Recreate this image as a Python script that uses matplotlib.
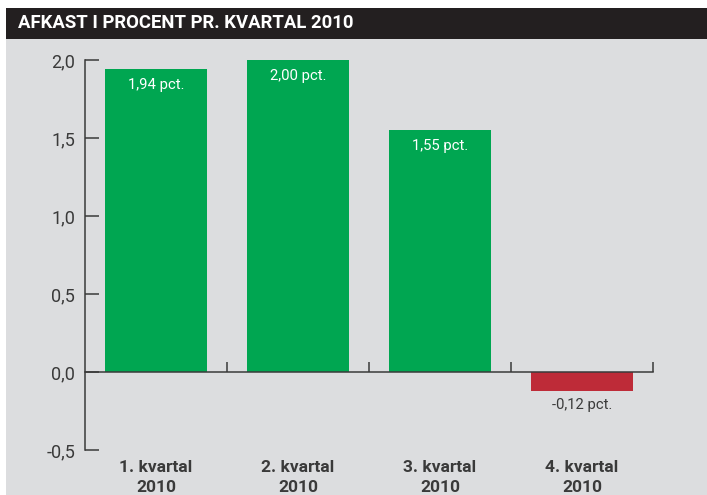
import matplotlib
matplotlib.use("Agg")
import matplotlib.pyplot as plt
from matplotlib.patches import Rectangle
from matplotlib.transforms import blended_transform_factory

plt.rcParams['font.family'] = ['Roboto', 'DejaVu Sans']

# data
quarters = ["1. kvartal\n2010", "2. kvartal\n2010", "3. kvartal\n2010", "4. kvartal\n2010"]
returns = [1.94, 2.00, 1.55, -0.12]
value_labels = ["1,94 pct.", "2,00 pct.", "1,55 pct.", "-0,12 pct."]
yticks = [-0.5, 0.0, 0.5, 1.0, 1.5, 2.0]
ytick_labels = ["-0,5", "0,0", "0,5", "1,0", "1,5", "2,0"]

green = "#00a651"
red = "#be2b38"
bg = "#dcdddf"
ink = "#3a3a3a"

W, H = 707, 495
fig = plt.figure(figsize=(W / 100, H / 100), dpi=100, facecolor="white")

# gray panel and black title bar (behind the axes)
fig.patches.append(Rectangle((6 / W, 0), 1, 1 - 39 / H, transform=fig.transFigure,
                             facecolor=bg, edgecolor="none", zorder=-2))
fig.patches.append(Rectangle((6 / W, 1 - 39 / H), 1, 31 / H, transform=fig.transFigure,
                             facecolor="#231f20", edgecolor="none", zorder=-2))
fig.text(18 / W, 1 - 23.5 / H, "AFKAST I PROCENT PR. KVARTAL 2010", color="white",
         fontsize=13.3, fontweight="bold", va="center", ha="left")

ax = fig.add_axes([85 / W, 1 - 450 / H, 568 / W, 390 / H])
ax.patch.set_visible(False)

x = list(range(len(returns)))
colors = [green if v >= 0 else red for v in returns]
ax.bar(x, returns, width=0.725, color=colors, zorder=2)

for xi, v, lab in zip(x, returns, value_labels):
    if v >= 0:
        ax.annotate(lab, (xi, v), xytext=(0, -11.5), textcoords="offset points",
                    ha="center", va="center", color="white", fontsize=10.7)
    else:
        ax.annotate(lab, (xi, v), xytext=(0, -10.5), textcoords="offset points",
                    ha="center", va="center", color=ink, fontsize=10.7)

ax.set_xlim(-0.5, 3.5)
ax.set_ylim(-0.5, 2.0)

for s in ["top", "right"]:
    ax.spines[s].set_visible(False)
ax.spines["bottom"].set_position(("data", 0))
ax.spines["bottom"].set_zorder(3)
for s in ["left", "bottom"]:
    ax.spines[s].set_color(ink)
    ax.spines[s].set_linewidth(1.1)

ax.set_yticks(yticks)
ax.set_yticklabels(ytick_labels)
ax.tick_params(axis="y", direction="in", length=10, width=1.1, color=ink,
               labelsize=13, labelcolor=ink, pad=7)
ax.set_xticks([0.5, 1.5, 2.5, 3.5])
ax.set_xticklabels([])
ax.tick_params(axis="x", direction="in", length=7, width=1.1, color=ink)

trans = blended_transform_factory(ax.transData, ax.transAxes)
for xi, q in zip(x, quarters):
    ax.text(xi, -0.026, q, transform=trans, ha="center", va="top",
            fontsize=12.5, fontweight="bold", color=ink, linespacing=1.4)

fig.savefig("out.png", dpi=100, facecolor="white")
